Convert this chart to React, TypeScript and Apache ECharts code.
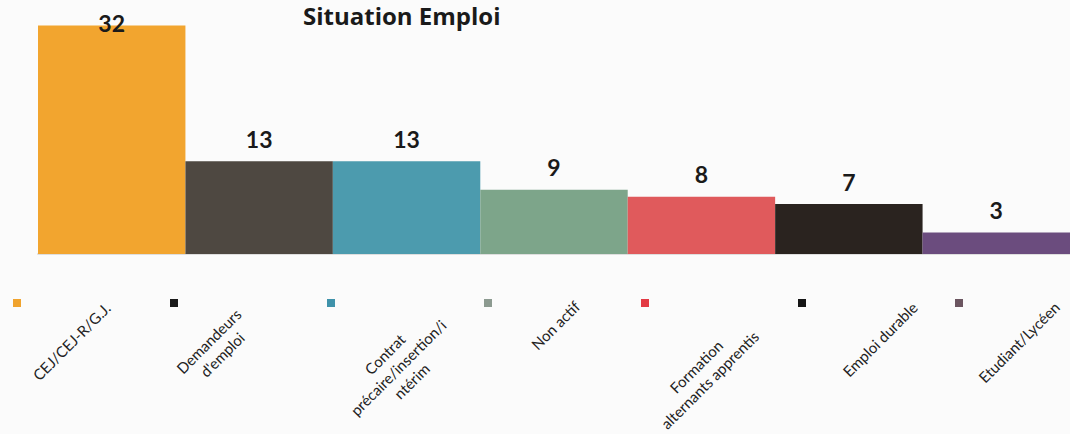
import React, { useEffect, useRef } from 'react';
import * as echarts from 'echarts';

const categories: string[] = [
  'CEJ/CEJ-R/G.J.',
  "Demandeurs\nd'emploi",
  'Contrat\nprécaire/insertion/i\nntérim',
  'Non actif',
  'Formation\nalternants apprentis',
  'Emploi durable',
  'Etudiant/Lycéen',
];
const values: number[] = [32, 13, 13, 9, 8, 7, 3];

const barColors = ['#F2A52F', '#4E4841', '#4C9BAE', '#7DA58A', '#E05A5C', '#2A231F', '#6B4C7E'];
const legendColors = ['#F0A32E', '#1A1A1A', '#3F92AA', '#8C9A90', '#E33A44', '#151515', '#6B5560'];
// nudges of each rotated category label in its own text frame: [along text, across text]
const labelNudges: [number, number][] = [
  [-62, 5], [-69, 7], [-58, 46], [-21, 23], [-55, 57], [-10, 54], [-18, 50],
];
const LABEL_LINE_HEIGHT = 19;

export default function App() {
  const ref = useRef<HTMLDivElement>(null);
  useEffect(() => {
    document.body.style.margin = '0';
    const chart = echarts.init(ref.current!, null, { renderer: 'svg' });
    const maxV = Math.max(...values);
    const series = categories.map((name, i) => ({
      name,
      type: 'bar',
      stack: 'all',
      barWidth: '100%',
      data: values.map((v, j) => (j === i ? v : null)),
      itemStyle: { color: barColors[i] },
      label: {
        show: true,
        position: 'top',
        distance: values[i] === maxV ? -9 : 11,
        fontFamily: 'Lato',
        fontWeight: 'bold',
        fontSize: 23,
        color: '#1a1a1a',
      },
    }));
    const xData = categories.map((c, i) => {
      const [sx, sy] = labelNudges[i];
      const contentH = c.split('\n').length * LABEL_LINE_HEIGHT;
      return {
        value: c,
        textStyle: {
          align: 'center',
          verticalAlign: 'top',
          padding: [sy - contentH / 2, sx < 0 ? -2 * sx : 0, 0, sx > 0 ? 2 * sx : 0],
        },
      };
    });
    chart.setOption({
      animation: false,
      backgroundColor: '#fbfbfb',
      title: {
        text: 'Situation Emploi',
        left: 303,
        top: 3,
        padding: 0,
        textStyle: { fontFamily: 'Open Sans', fontWeight: 'bold', fontSize: 24, color: '#1a1a1a' },
      },
      legend: {
        data: categories.map((n, i) => ({ name: n, itemStyle: { color: legendColors[i] } })),
        left: 13,
        top: 299,
        padding: 0,
        itemWidth: 8,
        itemHeight: 8,
        icon: 'rect',
        itemGap: 149,
        formatter: () => '',
        selectedMode: false,
      },
      grid: { left: 38, right: 0, top: 4, bottom: 180, outerBoundsMode: 'none', containLabel: false },
      xAxis: {
        type: 'category',
        data: xData,
        axisLine: { show: true, lineStyle: { color: '#dedede', width: 2 } },
        axisTick: { show: false },
        axisLabel: {
          rotate: 45,
          interval: 0,
          margin: 40,
          fontFamily: 'Lato',
          fontSize: 15,
          lineHeight: LABEL_LINE_HEIGHT,
          color: '#222',
        },
      },
      yAxis: { type: 'value', min: 0, max: 35, show: false },
      series,
    });
    return () => chart.dispose();
  }, []);
  return <div ref={ref} style={{ position: 'fixed', left: 0, top: 0, width: 1070, height: 434 }} />;
}
